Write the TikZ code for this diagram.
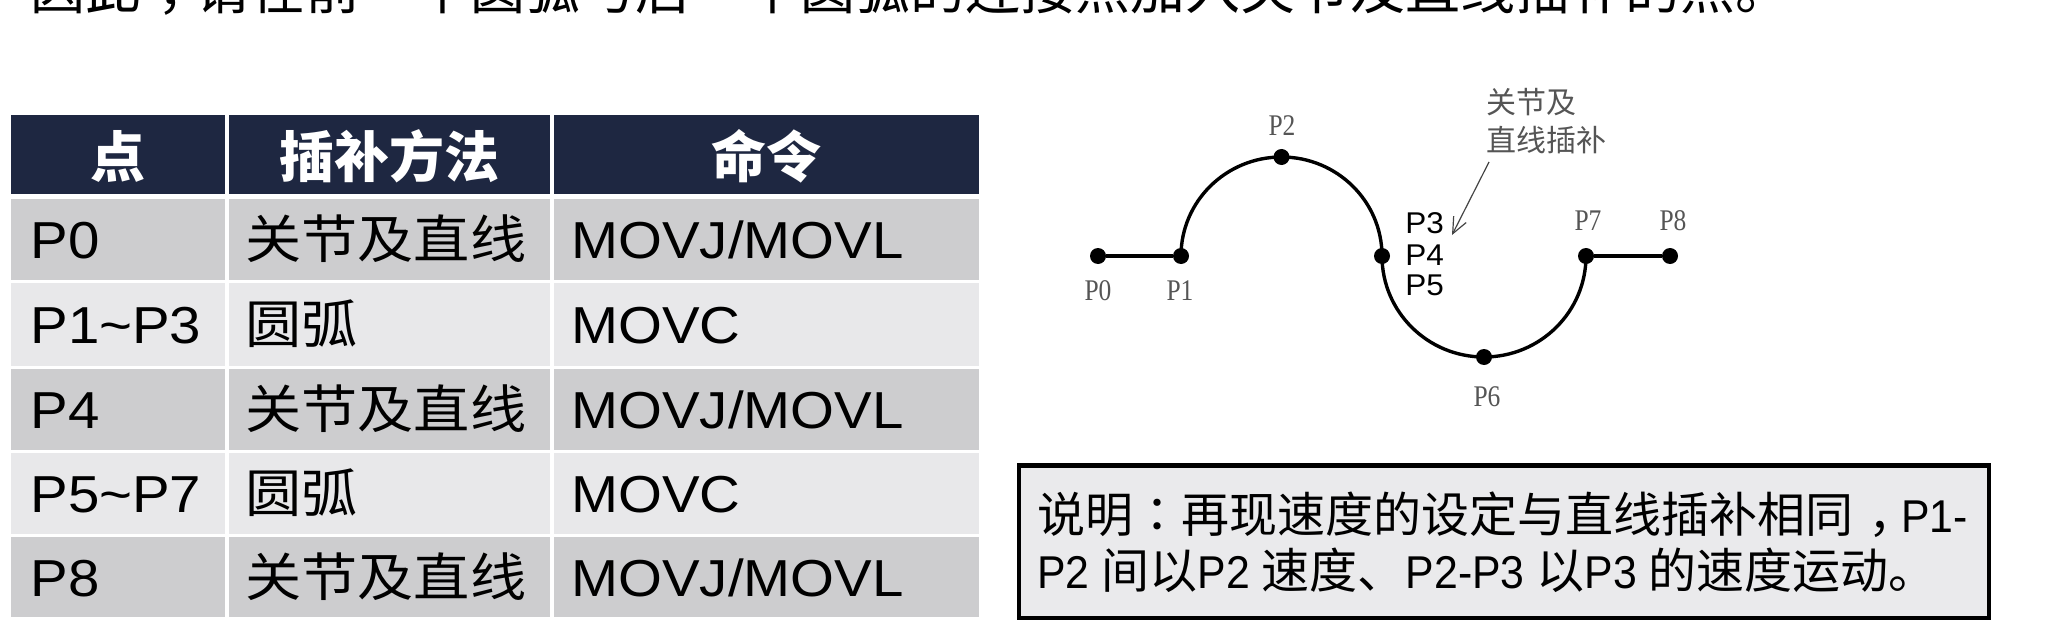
\documentclass[tikz,border=0pt]{standalone}
\usepackage{fontspec}
\setmainfont{Liberation Sans}
\newfontfamily\cjk{Noto Sans CJK SC}
\newfontfamily\cjktc{Noto Sans CJK TC}
\newfontfamily\cjkw[FakeStretch=1.08]{Noto Sans CJK SC}
\newfontfamily\latn[FakeStretch=1.085]{Liberation Sans}
\newfontfamily\latns[FakeStretch=1.05]{Liberation Sans}
\newfontfamily\latnn[FakeStretch=0.93]{Liberation Sans}
\newfontfamily\pser[FakeStretch=0.85]{Liberation Serif}
\usetikzlibrary{arrows.meta}
\definecolor{navy}{HTML}{1E2741}
\definecolor{rowdark}{HTML}{CDCDCF}
\definecolor{rowlight}{HTML}{E8E8EA}
\definecolor{boxfill}{HTML}{EAEAEC}
\definecolor{labgray}{HTML}{555555}
\definecolor{arrgray}{HTML}{444444}
\newcommand\zh[1]{{\cjkw #1}}
\newcommand\zb[1]{{\fontsize{24}{24}\selectfont\cjk #1}}
\newcommand\cp[1]{{\cjktc #1}}
\newcommand\cm{\hspace{0.32em}，\hspace{-0.32em}}
\begin{document}
\begin{tikzpicture}[x=0.5pt,y=-0.5pt,
  cell/.style={anchor=base west, inner sep=0, font=\fontsize{26}{26}\selectfont\latn},
  head/.style={anchor=base, inner sep=0, text=white, font=\fontsize{27.5}{27.5}\selectfont\cjk\bfseries},
  dot/.style={circle, fill=black, inner sep=0, minimum size=8pt},
  curve/.style={line width=1.7pt, draw=black},
  plab/.style={anchor=base, inner sep=0, text=labgray, font=\fontsize{15}{15}\selectfont\pser},
  slab/.style={anchor=base west, inner sep=0, font=\fontsize{15}{15}\selectfont\latns},
  ann/.style={anchor=base west, inner sep=0, text=labgray, font=\fontsize{15}{15}\selectfont\cjk},
  notebox/.style={draw=black, line width=2.2pt, fill=boxfill, inner sep=0},
  notetext/.style={anchor=base west, inner sep=0, font=\fontsize{23}{23}\selectfont\latnn}]
\useasboundingbox (0,0) rectangle (2061,642);
% title (cut at top)
\begin{scope}
\clip (0,0) rectangle (2061,642);
\node[anchor=base west, inner sep=0, font=\fontsize{27.5}{27.5}\selectfont\cjk] (title) at (30,10) {因此\cm 请在前一个圆弧与后一个圆弧的连接点加入关节及直线插补的点。};
\end{scope}
% table
\fill[navy] (11,115) rectangle (225,194);
\fill[navy] (229,115) rectangle (550,194);
\fill[navy] (554,115) rectangle (979,194);
\foreach \t/\b/\c in {199/280/rowdark, 283/366/rowlight, 369/450/rowdark, 453/534/rowlight, 537/617/rowdark}{
  \fill[\c] (11,\t) rectangle (225,\b);
  \fill[\c] (229,\t) rectangle (550,\b);
  \fill[\c] (554,\t) rectangle (979,\b);
}
\node[head] (h1) at (118,177) {点};
\node[head] (h2) at (389.5,177) {插补方法};
\node[head] (h3) at (766.5,177) {命令};
\node[cell] (r1a) at (30,258.5) {P0};
\node[cell] (r1b) at (245,258.5) {\zh{关节及直线}};
\node[cell] (r1c) at (571,258.5) {MOVJ/MOVL};
\node[cell] (r2a) at (30,343.5) {P1\textasciitilde P3};
\node[cell] (r2b) at (245,343.5) {\zh{圆弧}};
\node[cell] (r2c) at (571,343.5) {MOVC};
\node[cell] (r3a) at (30,428.5) {P4};
\node[cell] (r3b) at (245,428.5) {\zh{关节及直线}};
\node[cell] (r3c) at (571,428.5) {MOVJ/MOVL};
\node[cell] (r4a) at (30,512.5) {P5\textasciitilde P7};
\node[cell] (r4b) at (245,512.5) {\zh{圆弧}};
\node[cell] (r4c) at (571,512.5) {MOVC};
\node[cell] (r5a) at (30,596) {P8};
\node[cell] (r5b) at (245,596) {\zh{关节及直线}};
\node[cell] (r5c) at (571,596) {MOVJ/MOVL};
% path diagram
\node[dot] (p0) at (1098,256) {};
\node[dot] (p1) at (1181,256) {};
\node[dot] (p2) at (1281.5,157) {};
\node[dot] (p3) at (1382,256) {};
\node[dot] (p6) at (1484,357) {};
\node[dot] (p7) at (1586,256) {};
\node[dot] (p8) at (1670,256) {};
\draw[curve] (p0) -- (p1);
\draw[curve] (p1.center) arc[start angle=180, end angle=0, x radius=50.25pt, y radius=49.5pt];
\draw[curve] (p3.center) arc[start angle=180, end angle=360, x radius=51pt, y radius=50.5pt];
\draw[curve] (p7) -- (p8);
\node[plab] (l0) at (1098,300) {P0};
\node[plab] (l1) at (1180,300) {P1};
\node[plab] (l2) at (1282,135) {P2};
\node[plab] (l6) at (1487,406) {P6};
\node[plab] (l7) at (1588,230) {P7};
\node[plab] (l8) at (1673,230) {P8};
\node[slab] (l3) at (1405,233) {P3};
\node[slab] (l4) at (1405,265) {P4};
\node[slab] (l5) at (1405,295) {P5};
\node[ann] (a1) at (1486,113) {关节及};
\node[ann] (a2) at (1486,152) {直线插补};
\coordinate (as) at (1489,162);
\coordinate (at) at (1452,235);
\draw[arrgray, line width=0.6pt, -{Straight Barb[length=8pt,width=7pt]}] (as) -- (at);
% note box
\node[notebox, minimum width=484.8pt, minimum height=76.25pt] (note) at (1504,541.75) {};
\node[notetext] (n1) at (1037,532.5) {\zb{说明\cp{：}再现速度的设定与直线插补相同\cm}P1-};
\node[notetext] (n2) at (1037,588.5) {P2 \zb{间以}P2 \zb{速度、}P2-P3 \zb{以}P3 \zb{的速度运动。}};
\end{tikzpicture}
\end{document}
